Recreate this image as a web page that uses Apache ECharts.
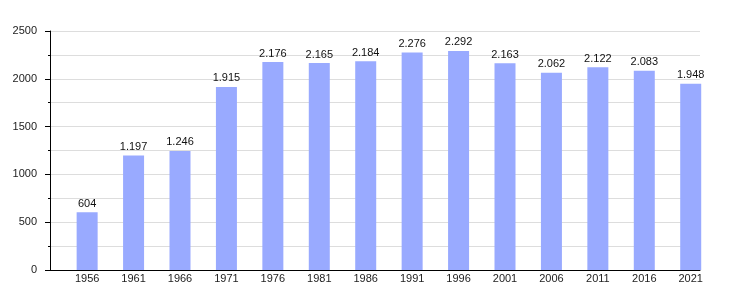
<!DOCTYPE html>
<html>
<head>
<meta charset="utf-8">
<script src="https://cdn.jsdelivr.net/npm/echarts@6/dist/echarts.min.js"></script>
<style>html,body{margin:0;padding:0;background:#fff}#c{width:730px;height:300px}</style>
</head>
<body>
<div id="c"></div>
<script>
var categories = [1956, 1961, 1966, 1971, 1976, 1981, 1986, 1991, 1996, 2001, 2006, 2011, 2016, 2021];
var values = [604, 1197, 1246, 1915, 2176, 2165, 2184, 2276, 2292, 2163, 2062, 2122, 2083, 1948];
var yTicks = [0, 500, 1000, 1500, 2000, 2500];

function fmt(v) {
  var s = String(v);
  return s.length > 3 ? s.slice(0, s.length - 3) + '.' + s.slice(-3) : s;
}

var chart = echarts.init(document.getElementById('c'), null, {renderer: 'canvas'});
var font = 'Liberation Sans, Arial, sans-serif';
chart.setOption({
  animation: false,
  grid: {left: 50, right: 30, top: 31, bottom: 30, containLabel: false},
  xAxis: {
    type: 'value',
    min: 1952,
    max: 2022,
    axisLine: {show: true, onZero: false, lineStyle: {color: '#000', width: 1}},
    axisTick: {show: false},
    splitLine: {show: false},
    axisLabel: {
      customValues: categories,
      color: '#222',
      fontFamily: font,
      fontSize: 11,
      margin: 3,
      formatter: function (v) { return String(v); }
    }
  },
  yAxis: {
    type: 'value',
    min: yTicks[0],
    max: yTicks[yTicks.length - 1],
    interval: 500,
    axisLine: {show: true, lineStyle: {color: '#000', width: 1}},
    axisTick: {show: true, length: 5, lineStyle: {color: '#000'}},
    minorTick: {show: true, splitNumber: 2, length: 2, lineStyle: {color: '#000'}},
    splitLine: {show: true, lineStyle: {color: '#dddddd', width: 1}},
    minorSplitLine: {show: true, lineStyle: {color: '#dddddd', width: 1}},
    axisLabel: {
      color: '#222', fontFamily: font, fontSize: 11, margin: 13,
      formatter: function (v) { return String(v); }
    }
  },
  series: [{
    type: 'bar',
    barWidth: 21,
    data: categories.map(function (c, i) { return [c, values[i]]; }),
    itemStyle: {color: '#99aaff'},
    label: {
      show: true,
      position: 'top',
      distance: 3,
      color: '#111',
      fontFamily: font,
      fontSize: 11,
      formatter: function (p) { return fmt(p.value[1]); }
    }
  }]
});
</script>
</body>
</html>
